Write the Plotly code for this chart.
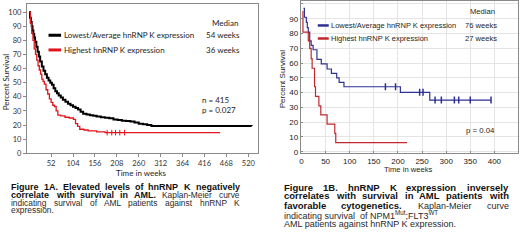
import plotly.graph_objects as go

# ---------------- data ----------------
# Panel A (left)
a_low_t = [0, 2, 4, 6, 8, 10, 12, 14, 17, 20, 23, 26, 30, 34, 38, 42, 46, 50, 54, 58, 62, 66, 70, 75, 80, 86, 92, 98,
           104, 110, 116, 122, 128, 136, 144, 152, 160, 170, 180, 190, 200, 210, 220, 230, 240, 250, 260, 270, 280,
           290, 528]
a_low_s = [100, 96, 93, 90, 87, 84.5, 82, 79, 75.5, 72, 68.5, 65, 61.5, 58.5, 56, 53.5, 51.5, 50, 48.5, 46, 44, 42.5,
           41, 39.5, 38, 36.5, 35, 34, 33, 32, 31, 29.5, 28, 27.5, 27, 26.5, 26, 25.5, 25.2, 24.8, 24, 23.5, 23, 22.8,
           22.5, 21.8, 21, 20.5, 20, 19.4, 19.3]
a_high_t = [0, 3, 6, 9, 12, 15, 18, 21, 24, 27, 30, 33, 36, 40, 44, 48, 52, 56, 60, 64, 68, 75, 85, 95, 105, 110, 115,
            120, 130, 140, 160, 180, 453]
a_high_s = [100, 92, 85, 80, 74, 70, 66, 62, 59, 56, 52.5, 51, 49, 45, 42, 38.5, 36, 34, 33, 30, 27, 26.5, 25.5, 25,
            24, 21, 19, 17, 16.5, 15.8, 15.2, 14.6, 14.6]
a_high_cens = [185, 196, 205, 215, 226]
a_xticks = [52, 104, 156, 208, 260, 312, 364, 416, 468, 520]
a_yticks = [0, 10, 20, 30, 40, 50, 60, 70, 80, 90, 100]
a_labels = ["Lowest/Average hnRNP K expression", "Highest hnRNP K expression"]
a_medians = ["54 weeks", "36 weeks"]
a_stats = ["n = 415", "p = 0.027"]

# Panel B (right)
b_low_t = [4, 6, 10, 12, 14, 17, 20, 24, 32, 41, 53, 62, 73, 78, 88, 205, 266, 393]
b_low_s = [97, 91, 87.5, 84, 81, 75, 72, 69, 62.5, 59.5, 56, 53, 50, 47, 44, 40.2, 35, 35]
b_low_cens = [174, 195, 245, 252, 277, 290, 317, 326, 350, 393]
b_high_t = [2, 3, 14, 17, 20, 22, 27, 29, 36, 40, 53, 69, 71, 219]
b_high_s = [95, 81, 75, 70, 63, 56.5, 44, 37.5, 31, 25, 18.7, 12.5, 6.2, 6.2]
b_xticks = [0, 50, 100, 150, 200, 250, 300, 350, 400]
b_yticks = [0, 10, 20, 30, 40, 50, 60, 70, 80, 90, 100]
b_labels = ["Lowest/Average hnRNP K expression", "Highest hnRNP K expression"]
b_medians = ["76 weeks", "27 weeks"]
b_stats = ["p = 0.04"]

# Captions
cap_a_bold = ["Figure 1A. Elevated levels of hnRNP K negatively", "correlate with survival in AML.", "", ""]
cap_a_reg = ["", "Kaplan-Meier curve", "indicating survival of AML patients against hnRNP K", "expression."]
cap_a_just = [True, True, True, False]
cap_b_bold = ["Figure 1B. hnRNP K expression inversely", "correlates with survival in AML patients with",
              "favorable cytogenetics.", "", ""]
cap_b_reg = ["", "", "Kaplan-Meier curve", "indicating survival  of NPM1<sup>Mut</sup>;FLT3<sup>WT</sup>",
             "AML patients against hnRNP K expression."]
cap_b_just = [True, True, True, False, False]

# ---------------- helpers ----------------
W, H = 520, 242


def px(x):
    return x / W


def py(y):
    return 1 - y / H


def step_at(ts, ss, t):
    v = ss[0]
    for ti, si in zip(ts, ss):
        if ti <= t:
            v = si
    return v


REG = {' ': 278, 'a': 556, 'b': 556, 'c': 500, 'd': 556, 'e': 556, 'f': 278, 'g': 556, 'h': 556, 'i': 222, 'j': 222,
       'k': 500, 'l': 222, 'm': 833, 'n': 556, 'o': 556, 'p': 556, 'q': 556, 'r': 333, 's': 500, 't': 278, 'u': 556,
       'v': 500, 'w': 722, 'x': 500, 'y': 500, 'z': 500, 'A': 667, 'B': 667, 'C': 722, 'D': 722, 'E': 667, 'F': 611,
       'G': 778, 'H': 722, 'I': 278, 'K': 667, 'L': 556, 'M': 833, 'N': 722, 'O': 778, 'P': 667, 'R': 722, 'S': 667,
       'T': 611, 'W': 944, '.': 278, ',': 278, '-': 333, ';': 278, ':': 278}
BOLD = {' ': 278, 'a': 556, 'b': 611, 'c': 556, 'd': 611, 'e': 556, 'f': 333, 'g': 611, 'h': 611, 'i': 278,
        'j': 278, 'k': 556, 'l': 278, 'm': 889, 'n': 611, 'o': 611, 'p': 611, 'q': 611, 'r': 389, 's': 556, 't': 333,
        'u': 611, 'v': 556, 'w': 778, 'x': 556, 'y': 556, 'z': 500, 'A': 722, 'B': 722, 'C': 722, 'D': 722, 'E': 667,
        'F': 611, 'G': 778, 'H': 722, 'I': 278, 'K': 722, 'L': 611, 'M': 833, 'N': 722, 'O': 778, 'P': 667, 'R': 722,
        'S': 667, 'T': 611, 'W': 944, '.': 278, ',': 278, '-': 333, ';': 333, ':': 333}


def tw(s, size, bold):
    tab = BOLD if bold else REG
    return sum(tab.get(c, 556) for c in s) * size / 1000.0 * 1.03


ARIAL = "Liberation Sans, Arial, sans-serif"
CALI = "Lato, Liberation Sans, sans-serif"
annotations = []


def ann(x, y, text, size, family, color="#1e1e1e", xanchor="left", angle=0):
    annotations.append(dict(x=px(x), y=py(y), xref="paper", yref="paper", text=text, showarrow=False,
                            xanchor=xanchor, yanchor="middle", textangle=angle, borderpad=0, borderwidth=0,
                            font=dict(size=size, family=family, color=color)))


def caption(bolds, regs, justs, ys, left, right, size, size_b):
    for b, r, j, y in zip(bolds, regs, justs, ys):
        if j:
            words = [(w, True) for w in b.split()] + [(w, False) for w in r.split()]
            widths = [tw(w, size_b if bb else size, bb) for w, bb in words]
            gap = (right - left - sum(widths)) / max(1, len(words) - 1)
            x = left
            n = len(words)
            for k, ((w, bb), wd) in enumerate(zip(words, widths)):
                txt = f"<b>{w}</b>" if bb else w
                col = "#111" if bb else "#2a2a2a"
                if k == n - 1:
                    ann(right, y, txt, size_b if bb else size, ARIAL, color=col, xanchor="right")
                else:
                    ann(x, y, txt, size_b if bb else size, ARIAL, color=col)
                x += wd + gap
        else:
            txt = (f"<b>{b}</b> " if b else "") + r
            ann(left, y, txt, size, ARIAL, color="#2a2a2a")


# ---------------- figure ----------------
RED_A = "#e3141c"
BLUE_B = "#2f3192"
RED_B = "#c0282e"
fig = go.Figure()
fig.add_trace(go.Scatter(x=a_low_t, y=a_low_s, mode="lines", line=dict(color="#000000", width=2, shape="hv"),
                         xaxis="x", yaxis="y"))
fig.add_trace(go.Scatter(x=a_high_t, y=a_high_s, mode="lines", line=dict(color=RED_A, width=1.3, shape="hv"),
                         xaxis="x", yaxis="y"))
fig.add_trace(go.Scatter(x=a_high_cens, y=[step_at(a_high_t, a_high_s, t) for t in a_high_cens], mode="markers",
                         marker=dict(symbol="line-ns-open", size=4, color=RED_A, line=dict(color=RED_A, width=1)),
                         xaxis="x", yaxis="y"))
fig.add_trace(go.Scatter(x=b_low_t, y=b_low_s, mode="lines", line=dict(color=BLUE_B, width=1.2, shape="hv"),
                         xaxis="x2", yaxis="y2"))
fig.add_trace(go.Scatter(x=b_low_cens, y=[step_at(b_low_t, b_low_s, t) for t in b_low_cens], mode="markers",
                         marker=dict(symbol="line-ns-open", size=5, color=BLUE_B, line=dict(color=BLUE_B, width=1.5)),
                         xaxis="x2", yaxis="y2"))
fig.add_trace(go.Scatter(x=b_high_t, y=b_high_s, mode="lines", line=dict(color=RED_B, width=1.2, shape="hv"),
                         xaxis="x2", yaxis="y2"))

frame = "#8a8a8a"
fig.update_layout(
    width=W, height=H, margin=dict(l=0, r=0, t=0, b=0), showlegend=False,
    paper_bgcolor="white", plot_bgcolor="white", hovermode=False,
    xaxis=dict(domain=[px(25), px(257)], range=[-5.4, 543], tickvals=a_xticks, showline=True, linecolor=frame,
               mirror=True, ticks="outside", ticklen=3, tickcolor=frame, showgrid=False, zeroline=False,
               tickfont=dict(family=CALI, size=7.5, color="#333"), anchor="y"),
    yaxis=dict(domain=[py(156.5), py(4)], range=[0, 105.8], tickvals=a_yticks, showline=True, linecolor=frame,
               mirror=True, ticks="outside", ticklen=3, tickcolor=frame, showgrid=False, zeroline=False,
               tickfont=dict(family=CALI, size=7.5, color="#333"), anchor="x"),
    xaxis2=dict(domain=[px(300), px(518)], range=[-1.4, 449], tickvals=b_xticks, showline=True, linecolor=frame,
                mirror=True, ticks="inside", ticklen=2, tickcolor=frame, showgrid=True, gridcolor="#e4e4e4",
                zeroline=False, tickfont=dict(family=ARIAL, size=8, color="#222"), anchor="y2"),
    yaxis2=dict(domain=[py(156.5), py(1)], range=[-1, 102], tickvals=b_yticks, showline=True, linecolor=frame,
                mirror=True, ticks="inside", ticklen=2, tickcolor=frame, showgrid=True, gridcolor="#e4e4e4",
                zeroline=False, tickfont=dict(family=ARIAL, size=8, color="#222"), anchor="x2"),
)

shapes = [
    dict(type="line", xref="paper", yref="paper", x0=px(46.7), x1=px(59.3), y0=py(36), y1=py(36),
         line=dict(color="#000", width=3)),
    dict(type="line", xref="paper", yref="paper", x0=px(46.7), x1=px(59.3), y0=py(51), y1=py(51),
         line=dict(color=RED_A, width=3)),
    dict(type="line", xref="paper", yref="paper", x0=px(317), x1=px(328), y0=py(26), y1=py(26),
         line=dict(color=BLUE_B, width=2.5)),
    dict(type="line", xref="paper", yref="paper", x0=px(317), x1=px(328), y0=py(39.3), y1=py(39.3),
         line=dict(color=RED_B, width=2.5)),
]
fig.update_layout(shapes=shapes)

# Panel A texts
ann(4, 83, "Percent Survival", 8, CALI, angle=-90, xanchor="center")
ann(140, 177, "Time in weeks", 8, CALI, xanchor="center")
ann(237, 23, "Median", 8, CALI, xanchor="right")
ann(62, 36, a_labels[0], 8, CALI)
ann(239, 36, a_medians[0], 8, CALI, xanchor="right")
ann(62, 51, a_labels[1], 8, CALI)
ann(239, 51, a_medians[1], 8, CALI, xanchor="right")
ann(201, 101.7, a_stats[0], 8, CALI)
ann(201, 112.3, a_stats[1], 8, CALI)

# Panel B texts
ann(281, 81, "Percent Survival", 8, ARIAL, angle=-90, xanchor="center")
ann(408, 173, "Time in weeks", 7.6, ARIAL, xanchor="center")
ann(495, 11.7, "Median", 7.6, ARIAL, xanchor="right")
ann(330.7, 26, b_labels[0], 7.5, ARIAL)
ann(497.3, 26, b_medians[0], 7.6, ARIAL, xanchor="right")
ann(330.7, 39.3, b_labels[1], 7.5, ARIAL)
ann(497.3, 39.3, b_medians[1], 7.6, ARIAL, xanchor="right")
ann(495.3, 133.3, b_stats[0], 7.8, ARIAL, xanchor="right")

# Captions
caption(cap_a_bold, cap_a_reg, cap_a_just, [190.5, 199.3, 207.3, 214], 9, 239, 8.4, 9)
caption(cap_b_bold, cap_b_reg, cap_b_just, [191, 200, 210, 219.3, 228.3], 283, 509, 9, 9.5)

fig.update_layout(annotations=annotations)
fig.write_html("out.html", config={"displayModeBar": False, "staticPlot": True},
               post_script="document.body.style.margin='0';document.body.style.padding='0';")
